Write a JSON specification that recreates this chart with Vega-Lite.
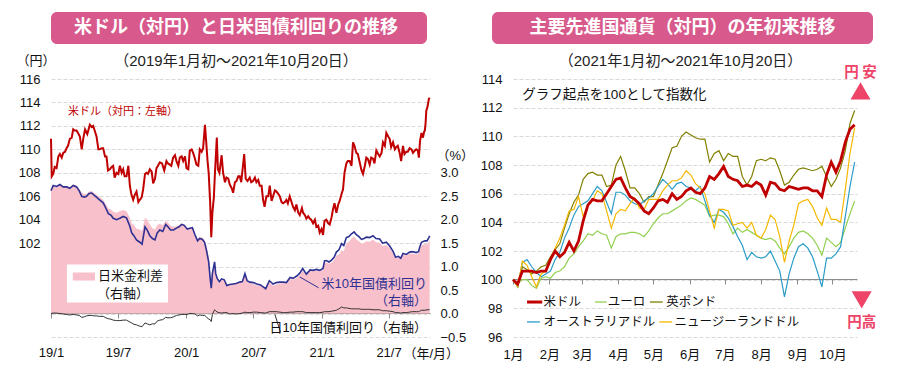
{
"$schema": "https://vega.github.io/schema/vega-lite/v6.json",
"background": "white",
"padding": {"left": 16, "top": 12, "right": 4, "bottom": 4},
"bounds": "flush",
"spacing": 67,
"config": {
  "font": "Liberation Sans, Noto Sans CJK JP",
  "view": {"stroke": null},
  "axis": {"labelFontSize": 13, "labelColor": "#111", "titleColor": "#111", "titleFontWeight": "normal", "titleFontSize": 13, "labelFont": "Liberation Sans, Noto Sans CJK JP", "titleFont": "Liberation Sans, Noto Sans CJK JP"},
  "title": {"font": "Liberation Sans, Noto Sans CJK JP"}
},
"datasets": {
"usd": [
{"d":"2019-01-01","v":110.9},{"d":"2019-01-03","v":107.7},{"d":"2019-01-07","v":107.9},{"d":"2019-01-11","v":108.5},{"d":"2019-01-16","v":108.4},{"d":"2019-01-21","v":109.4},{"d":"2019-01-25","v":109.6},{"d":"2019-01-30","v":109.3},{"d":"2019-02-03","v":109.7},{"d":"2019-02-08","v":109.8},{"d":"2019-02-12","v":110.1},{"d":"2019-02-16","v":110.3},{"d":"2019-02-21","v":110.9},{"d":"2019-02-26","v":111.0},{"d":"2019-03-02","v":111.7},{"d":"2019-03-06","v":111.6},{"d":"2019-03-11","v":111.6},{"d":"2019-03-15","v":111.4},{"d":"2019-03-20","v":111.1},{"d":"2019-03-25","v":110.0},{"d":"2019-03-29","v":110.9},{"d":"2019-04-03","v":111.7},{"d":"2019-04-09","v":111.3},{"d":"2019-04-16","v":112.1},{"d":"2019-04-21","v":111.9},{"d":"2019-04-25","v":112.0},{"d":"2019-04-30","v":111.5},{"d":"2019-05-04","v":111.1},{"d":"2019-05-09","v":110.0},{"d":"2019-05-13","v":110.0},{"d":"2019-05-18","v":110.1},{"d":"2019-05-22","v":110.1},{"d":"2019-05-27","v":109.4},{"d":"2019-05-31","v":109.4},{"d":"2019-06-04","v":108.2},{"d":"2019-06-09","v":108.3},{"d":"2019-06-14","v":108.5},{"d":"2019-06-18","v":108.6},{"d":"2019-06-22","v":107.6},{"d":"2019-06-27","v":108.0},{"d":"2019-07-02","v":107.9},{"d":"2019-07-06","v":108.6},{"d":"2019-07-11","v":108.0},{"d":"2019-07-15","v":108.3},{"d":"2019-07-19","v":107.7},{"d":"2019-07-24","v":107.7},{"d":"2019-07-29","v":108.6},{"d":"2019-08-02","v":106.9},{"d":"2019-08-06","v":106.2},{"d":"2019-08-11","v":105.7},{"d":"2019-08-15","v":106.1},{"d":"2019-08-20","v":106.4},{"d":"2019-08-25","v":105.5},{"d":"2019-08-29","v":105.7},{"d":"2019-09-03","v":105.9},{"d":"2019-09-07","v":106.6},{"d":"2019-09-12","v":107.9},{"d":"2019-09-16","v":108.0},{"d":"2019-09-20","v":107.9},{"d":"2019-09-25","v":108.3},{"d":"2019-09-30","v":108.1},{"d":"2019-10-04","v":107.1},{"d":"2019-10-09","v":107.5},{"d":"2019-10-13","v":108.4},{"d":"2019-10-17","v":108.6},{"d":"2019-10-22","v":108.9},{"d":"2019-10-28","v":108.8},{"d":"2019-11-03","v":108.2},{"d":"2019-11-09","v":109.0},{"d":"2019-11-13","v":108.8},{"d":"2019-11-18","v":108.7},{"d":"2019-11-22","v":108.6},{"d":"2019-11-27","v":109.3},{"d":"2019-12-02","v":109.5},{"d":"2019-12-06","v":109.0},{"d":"2019-12-11","v":108.6},{"d":"2019-12-15","v":109.3},{"d":"2019-12-20","v":109.4},{"d":"2019-12-24","v":109.0},{"d":"2019-12-29","v":109.4},{"d":"2020-01-02","v":108.4},{"d":"2020-01-07","v":108.3},{"d":"2020-01-11","v":109.9},{"d":"2020-01-16","v":110.0},{"d":"2020-01-20","v":109.7},{"d":"2020-01-24","v":109.3},{"d":"2020-01-29","v":108.7},{"d":"2020-02-03","v":108.6},{"d":"2020-02-07","v":110.0},{"d":"2020-02-12","v":109.8},{"d":"2020-02-16","v":110.1},{"d":"2020-02-21","v":112.1},{"d":"2020-02-24","v":110.8},{"d":"2020-02-28","v":109.0},{"d":"2020-03-02","v":108.0},{"d":"2020-03-06","v":105.5},{"d":"2020-03-09","v":102.5},{"d":"2020-03-12","v":104.6},{"d":"2020-03-16","v":105.9},{"d":"2020-03-19","v":108.0},{"d":"2020-03-24","v":111.0},{"d":"2020-03-27","v":108.3},{"d":"2020-03-31","v":108.0},{"d":"2020-04-06","v":109.5},{"d":"2020-04-10","v":108.0},{"d":"2020-04-15","v":107.2},{"d":"2020-04-19","v":107.6},{"d":"2020-04-24","v":107.5},{"d":"2020-04-28","v":107.0},{"d":"2020-05-03","v":106.7},{"d":"2020-05-07","v":106.3},{"d":"2020-05-12","v":107.2},{"d":"2020-05-16","v":107.3},{"d":"2020-05-21","v":107.7},{"d":"2020-05-25","v":107.7},{"d":"2020-05-29","v":107.2},{"d":"2020-06-03","v":108.7},{"d":"2020-06-06","v":109.6},{"d":"2020-06-10","v":107.5},{"d":"2020-06-15","v":107.3},{"d":"2020-06-21","v":107.6},{"d":"2020-06-25","v":107.2},{"d":"2020-06-30","v":107.3},{"d":"2020-07-05","v":107.6},{"d":"2020-07-09","v":107.2},{"d":"2020-07-14","v":107.4},{"d":"2020-07-18","v":106.9},{"d":"2020-07-23","v":106.9},{"d":"2020-07-27","v":105.7},{"d":"2020-07-31","v":105.1},{"d":"2020-08-05","v":106.0},{"d":"2020-08-10","v":106.0},{"d":"2020-08-14","v":106.9},{"d":"2020-08-19","v":105.6},{"d":"2020-08-23","v":106.0},{"d":"2020-08-28","v":106.5},{"d":"2020-09-01","v":106.4},{"d":"2020-09-06","v":106.2},{"d":"2020-09-10","v":106.0},{"d":"2020-09-15","v":105.5},{"d":"2020-09-19","v":105.4},{"d":"2020-09-24","v":105.5},{"d":"2020-09-28","v":105.7},{"d":"2020-10-02","v":105.4},{"d":"2020-10-07","v":106.0},{"d":"2020-10-11","v":105.6},{"d":"2020-10-16","v":105.1},{"d":"2020-10-21","v":104.8},{"d":"2020-10-25","v":105.3},{"d":"2020-10-30","v":104.6},{"d":"2020-11-03","v":104.4},{"d":"2020-11-09","v":105.0},{"d":"2020-11-12","v":104.6},{"d":"2020-11-17","v":104.4},{"d":"2020-11-21","v":104.1},{"d":"2020-11-26","v":104.3},{"d":"2020-11-30","v":104.1},{"d":"2020-12-04","v":104.0},{"d":"2020-12-09","v":103.7},{"d":"2020-12-14","v":104.0},{"d":"2020-12-18","v":103.4},{"d":"2020-12-23","v":103.5},{"d":"2020-12-27","v":102.9},{"d":"2021-01-01","v":103.2},{"d":"2021-01-05","v":102.7},{"d":"2021-01-09","v":103.9},{"d":"2021-01-14","v":104.0},{"d":"2021-01-19","v":103.7},{"d":"2021-01-23","v":103.6},{"d":"2021-01-28","v":104.2},{"d":"2021-02-01","v":104.9},{"d":"2021-02-05","v":105.4},{"d":"2021-02-10","v":104.6},{"d":"2021-02-15","v":105.3},{"d":"2021-02-19","v":105.6},{"d":"2021-02-24","v":106.2},{"d":"2021-02-28","v":106.6},{"d":"2021-03-04","v":108.0},{"d":"2021-03-09","v":108.8},{"d":"2021-03-13","v":109.0},{"d":"2021-03-18","v":109.0},{"d":"2021-03-23","v":108.6},{"d":"2021-03-27","v":110.6},{"d":"2021-03-31","v":110.3},{"d":"2021-04-05","v":109.7},{"d":"2021-04-09","v":109.6},{"d":"2021-04-14","v":108.9},{"d":"2021-04-19","v":108.2},{"d":"2021-04-23","v":107.9},{"d":"2021-04-28","v":108.6},{"d":"2021-05-02","v":109.3},{"d":"2021-05-06","v":109.2},{"d":"2021-05-11","v":108.7},{"d":"2021-05-15","v":109.3},{"d":"2021-05-20","v":109.2},{"d":"2021-05-24","v":108.8},{"d":"2021-05-29","v":109.9},{"d":"2021-06-03","v":109.6},{"d":"2021-06-07","v":109.4},{"d":"2021-06-12","v":109.7},{"d":"2021-06-16","v":110.6},{"d":"2021-06-21","v":110.3},{"d":"2021-06-25","v":111.4},{"d":"2021-06-30","v":111.1},{"d":"2021-07-04","v":110.9},{"d":"2021-07-08","v":110.2},{"d":"2021-07-13","v":110.6},{"d":"2021-07-18","v":110.0},{"d":"2021-07-22","v":110.2},{"d":"2021-07-26","v":110.3},{"d":"2021-07-31","v":109.7},{"d":"2021-08-04","v":109.0},{"d":"2021-08-09","v":110.3},{"d":"2021-08-13","v":109.6},{"d":"2021-08-18","v":109.8},{"d":"2021-08-22","v":109.8},{"d":"2021-08-27","v":110.1},{"d":"2021-09-01","v":110.0},{"d":"2021-09-05","v":109.7},{"d":"2021-09-10","v":109.9},{"d":"2021-09-14","v":110.0},{"d":"2021-09-18","v":109.9},{"d":"2021-09-21","v":109.3},{"d":"2021-09-24","v":110.7},{"d":"2021-09-28","v":111.4},{"d":"2021-10-02","v":111.0},{"d":"2021-10-05","v":111.5},{"d":"2021-10-07","v":111.6},{"d":"2021-10-09","v":112.2},{"d":"2021-10-11","v":113.3},{"d":"2021-10-14","v":113.6},{"d":"2021-10-18","v":114.3},{"d":"2021-10-20","v":114.4}
],
"rates": [
{"d":"2019-01-01","us":2.62,"jp":0.00,"sp":2.62},{"d":"2019-01-07","us":2.73,"jp":0.01,"sp":2.72},{"d":"2019-01-16","us":2.71,"jp":0.01,"sp":2.70},{"d":"2019-01-25","us":2.75,"jp":0.00,"sp":2.75},{"d":"2019-02-03","us":2.70,"jp":-0.01,"sp":2.71},{"d":"2019-02-12","us":2.70,"jp":-0.02,"sp":2.72},{"d":"2019-02-21","us":2.67,"jp":-0.03,"sp":2.70},{"d":"2019-03-02","us":2.73,"jp":-0.02,"sp":2.75},{"d":"2019-03-11","us":2.70,"jp":-0.03,"sp":2.73},{"d":"2019-03-18","us":2.62,"jp":-0.04,"sp":2.66},{"d":"2019-03-25","us":2.50,"jp":-0.08,"sp":2.58},{"d":"2019-04-01","us":2.48,"jp":-0.07,"sp":2.55},{"d":"2019-04-07","us":2.50,"jp":-0.05,"sp":2.55},{"d":"2019-04-14","us":2.56,"jp":-0.04,"sp":2.60},{"d":"2019-04-21","us":2.57,"jp":-0.04,"sp":2.61},{"d":"2019-04-28","us":2.52,"jp":-0.05,"sp":2.57},{"d":"2019-05-04","us":2.48,"jp":-0.05,"sp":2.53},{"d":"2019-05-13","us":2.42,"jp":-0.06,"sp":2.48},{"d":"2019-05-22","us":2.36,"jp":-0.06,"sp":2.42},{"d":"2019-05-29","us":2.25,"jp":-0.09,"sp":2.34},{"d":"2019-06-05","us":2.13,"jp":-0.11,"sp":2.24},{"d":"2019-06-12","us":2.10,"jp":-0.12,"sp":2.22},{"d":"2019-06-18","us":2.03,"jp":-0.14,"sp":2.17},{"d":"2019-06-27","us":2.00,"jp":-0.15,"sp":2.15},{"d":"2019-07-06","us":2.03,"jp":-0.15,"sp":2.18},{"d":"2019-07-15","us":2.07,"jp":-0.14,"sp":2.21},{"d":"2019-07-24","us":2.04,"jp":-0.14,"sp":2.18},{"d":"2019-08-02","us":1.86,"jp":-0.18,"sp":2.04},{"d":"2019-08-07","us":1.72,"jp":-0.20,"sp":1.92},{"d":"2019-08-13","us":1.66,"jp":-0.23,"sp":1.89},{"d":"2019-08-20","us":1.57,"jp":-0.24,"sp":1.81},{"d":"2019-08-29","us":1.52,"jp":-0.27,"sp":1.79},{"d":"2019-09-04","us":1.48,"jp":-0.28,"sp":1.76},{"d":"2019-09-12","us":1.85,"jp":-0.20,"sp":2.05},{"d":"2019-09-18","us":1.78,"jp":-0.22,"sp":2.00},{"d":"2019-09-25","us":1.66,"jp":-0.24,"sp":1.90},{"d":"2019-10-02","us":1.60,"jp":-0.22,"sp":1.82},{"d":"2019-10-09","us":1.57,"jp":-0.22,"sp":1.79},{"d":"2019-10-15","us":1.72,"jp":-0.16,"sp":1.88},{"d":"2019-10-22","us":1.78,"jp":-0.14,"sp":1.92},{"d":"2019-10-30","us":1.75,"jp":-0.13,"sp":1.88},{"d":"2019-11-07","us":1.90,"jp":-0.08,"sp":1.98},{"d":"2019-11-13","us":1.85,"jp":-0.09,"sp":1.94},{"d":"2019-11-20","us":1.78,"jp":-0.09,"sp":1.87},{"d":"2019-11-28","us":1.78,"jp":-0.07,"sp":1.85},{"d":"2019-12-06","us":1.82,"jp":-0.04,"sp":1.86},{"d":"2019-12-13","us":1.85,"jp":-0.03,"sp":1.88},{"d":"2019-12-20","us":1.90,"jp":-0.02,"sp":1.92},{"d":"2019-12-27","us":1.88,"jp":-0.02,"sp":1.90},{"d":"2020-01-04","us":1.80,"jp":-0.02,"sp":1.82},{"d":"2020-01-11","us":1.82,"jp":0.00,"sp":1.82},{"d":"2020-01-18","us":1.83,"jp":0.00,"sp":1.83},{"d":"2020-01-25","us":1.68,"jp":-0.01,"sp":1.69},{"d":"2020-02-01","us":1.55,"jp":-0.05,"sp":1.60},{"d":"2020-02-07","us":1.60,"jp":-0.03,"sp":1.63},{"d":"2020-02-14","us":1.58,"jp":-0.04,"sp":1.62},{"d":"2020-02-20","us":1.52,"jp":-0.04,"sp":1.56},{"d":"2020-02-25","us":1.35,"jp":-0.07,"sp":1.42},{"d":"2020-03-02","us":1.10,"jp":-0.12,"sp":1.22},{"d":"2020-03-06","us":0.75,"jp":-0.13,"sp":0.88},{"d":"2020-03-09","us":0.54,"jp":-0.17,"sp":0.71},{"d":"2020-03-12","us":0.85,"jp":-0.02,"sp":0.87},{"d":"2020-03-18","us":1.10,"jp":0.08,"sp":1.02},{"d":"2020-03-21","us":0.85,"jp":0.06,"sp":0.79},{"d":"2020-03-25","us":0.75,"jp":0.03,"sp":0.72},{"d":"2020-03-31","us":0.68,"jp":0.02,"sp":0.66},{"d":"2020-04-06","us":0.74,"jp":0.01,"sp":0.73},{"d":"2020-04-13","us":0.72,"jp":0.02,"sp":0.70},{"d":"2020-04-20","us":0.60,"jp":0.02,"sp":0.58},{"d":"2020-04-28","us":0.62,"jp":-0.01,"sp":0.63},{"d":"2020-05-07","us":0.63,"jp":0.00,"sp":0.63},{"d":"2020-05-15","us":0.64,"jp":-0.01,"sp":0.65},{"d":"2020-05-25","us":0.67,"jp":0.00,"sp":0.67},{"d":"2020-06-01","us":0.68,"jp":0.01,"sp":0.67},{"d":"2020-06-08","us":0.85,"jp":0.03,"sp":0.82},{"d":"2020-06-14","us":0.70,"jp":0.02,"sp":0.68},{"d":"2020-06-21","us":0.67,"jp":0.02,"sp":0.65},{"d":"2020-07-01","us":0.66,"jp":0.03,"sp":0.63},{"d":"2020-07-10","us":0.63,"jp":0.03,"sp":0.60},{"d":"2020-07-20","us":0.61,"jp":0.02,"sp":0.59},{"d":"2020-08-03","us":0.53,"jp":0.01,"sp":0.52},{"d":"2020-08-13","us":0.70,"jp":0.04,"sp":0.66},{"d":"2020-08-23","us":0.63,"jp":0.04,"sp":0.59},{"d":"2020-09-01","us":0.66,"jp":0.04,"sp":0.62},{"d":"2020-09-10","us":0.67,"jp":0.03,"sp":0.64},{"d":"2020-09-20","us":0.67,"jp":0.02,"sp":0.65},{"d":"2020-09-28","us":0.66,"jp":0.02,"sp":0.64},{"d":"2020-10-08","us":0.77,"jp":0.03,"sp":0.74},{"d":"2020-10-16","us":0.75,"jp":0.03,"sp":0.72},{"d":"2020-10-26","us":0.80,"jp":0.04,"sp":0.76},{"d":"2020-11-03","us":0.86,"jp":0.04,"sp":0.82},{"d":"2020-11-11","us":0.96,"jp":0.04,"sp":0.92},{"d":"2020-11-21","us":0.84,"jp":0.02,"sp":0.82},{"d":"2020-12-01","us":0.93,"jp":0.02,"sp":0.91},{"d":"2020-12-09","us":0.92,"jp":0.02,"sp":0.90},{"d":"2020-12-18","us":0.94,"jp":0.02,"sp":0.92},{"d":"2020-12-27","us":0.92,"jp":0.02,"sp":0.90},{"d":"2021-01-05","us":0.96,"jp":0.03,"sp":0.93},{"d":"2021-01-09","us":1.12,"jp":0.04,"sp":1.08},{"d":"2021-01-14","us":1.13,"jp":0.04,"sp":1.09},{"d":"2021-01-21","us":1.10,"jp":0.04,"sp":1.06},{"d":"2021-01-28","us":1.14,"jp":0.05,"sp":1.09},{"d":"2021-02-04","us":1.20,"jp":0.06,"sp":1.14},{"d":"2021-02-10","us":1.31,"jp":0.07,"sp":1.24},{"d":"2021-02-17","us":1.36,"jp":0.10,"sp":1.26},{"d":"2021-02-24","us":1.49,"jp":0.14,"sp":1.35},{"d":"2021-03-02","us":1.45,"jp":0.12,"sp":1.33},{"d":"2021-03-09","us":1.62,"jp":0.12,"sp":1.50},{"d":"2021-03-16","us":1.64,"jp":0.11,"sp":1.53},{"d":"2021-03-23","us":1.70,"jp":0.10,"sp":1.60},{"d":"2021-03-30","us":1.74,"jp":0.10,"sp":1.64},{"d":"2021-04-05","us":1.68,"jp":0.10,"sp":1.58},{"d":"2021-04-12","us":1.64,"jp":0.10,"sp":1.54},{"d":"2021-04-19","us":1.58,"jp":0.09,"sp":1.49},{"d":"2021-04-26","us":1.60,"jp":0.09,"sp":1.51},{"d":"2021-05-02","us":1.63,"jp":0.09,"sp":1.54},{"d":"2021-05-11","us":1.62,"jp":0.09,"sp":1.53},{"d":"2021-05-20","us":1.66,"jp":0.08,"sp":1.58},{"d":"2021-05-28","us":1.60,"jp":0.08,"sp":1.52},{"d":"2021-06-07","us":1.59,"jp":0.08,"sp":1.51},{"d":"2021-06-15","us":1.50,"jp":0.06,"sp":1.44},{"d":"2021-06-25","us":1.52,"jp":0.06,"sp":1.46},{"d":"2021-07-04","us":1.44,"jp":0.05,"sp":1.39},{"d":"2021-07-13","us":1.33,"jp":0.04,"sp":1.29},{"d":"2021-07-20","us":1.20,"jp":0.02,"sp":1.18},{"d":"2021-07-27","us":1.22,"jp":0.02,"sp":1.20},{"d":"2021-08-03","us":1.18,"jp":0.01,"sp":1.17},{"d":"2021-08-09","us":1.28,"jp":0.02,"sp":1.26},{"d":"2021-08-18","us":1.26,"jp":0.02,"sp":1.24},{"d":"2021-08-27","us":1.31,"jp":0.03,"sp":1.28},{"d":"2021-09-03","us":1.32,"jp":0.04,"sp":1.28},{"d":"2021-09-14","us":1.30,"jp":0.04,"sp":1.26},{"d":"2021-09-20","us":1.32,"jp":0.04,"sp":1.28},{"d":"2021-09-23","us":1.41,"jp":0.05,"sp":1.36},{"d":"2021-09-28","us":1.52,"jp":0.07,"sp":1.45},{"d":"2021-10-07","us":1.55,"jp":0.07,"sp":1.48},{"d":"2021-10-13","us":1.55,"jp":0.08,"sp":1.47},{"d":"2021-10-18","us":1.62,"jp":0.08,"sp":1.54},{"d":"2021-10-20","us":1.66,"jp":0.09,"sp":1.57}
],
"curr": [
{"d":"2021-01-01","usd":100.0,"eur":100.0,"gbp":100.0,"aud":100.0,"nzd":100.0},
{"d":"2021-01-05","usd":99.7,"eur":99.7,"gbp":99.5,"aud":99.5,"nzd":99.5},
{"d":"2021-01-09","usd":100.6,"eur":100.0,"gbp":100.9,"aud":101.2,"nzd":101.3},
{"d":"2021-01-13","usd":100.6,"eur":100.0,"gbp":100.7,"aud":101.4,"nzd":101.0},
{"d":"2021-01-17","usd":100.6,"eur":99.6,"gbp":100.4,"aud":100.9,"nzd":100.2},
{"d":"2021-01-21","usd":100.5,"eur":99.4,"gbp":100.6,"aud":100.5,"nzd":99.5},
{"d":"2021-01-25","usd":100.6,"eur":100.1,"gbp":100.9,"aud":100.2,"nzd":100.4},
{"d":"2021-01-29","usd":100.6,"eur":100.2,"gbp":101.0,"aud":100.4,"nzd":100.6},
{"d":"2021-02-02","usd":101.4,"eur":100.1,"gbp":101.6,"aud":100.6,"nzd":101.3},
{"d":"2021-02-06","usd":102.0,"eur":100.5,"gbp":102.1,"aud":101.4,"nzd":102.2},
{"d":"2021-02-10","usd":101.6,"eur":100.6,"gbp":102.5,"aud":101.9,"nzd":102.9},
{"d":"2021-02-14","usd":101.9,"eur":100.9,"gbp":103.6,"aud":102.9,"nzd":103.8},
{"d":"2021-02-18","usd":102.6,"eur":101.5,"gbp":104.6,"aud":103.6,"nzd":104.8},
{"d":"2021-02-22","usd":102.0,"eur":101.8,"gbp":105.4,"aud":104.5,"nzd":104.9},
{"d":"2021-02-26","usd":102.7,"eur":102.3,"gbp":105.9,"aud":105.1,"nzd":105.8},
{"d":"2021-03-02","usd":104.1,"eur":102.7,"gbp":107.0,"aud":105.3,"nzd":104.4},
{"d":"2021-03-06","usd":105.2,"eur":103.2,"gbp":107.4,"aud":105.5,"nzd":105.2},
{"d":"2021-03-10","usd":105.6,"eur":103.1,"gbp":107.5,"aud":106.0,"nzd":105.5},
{"d":"2021-03-14","usd":105.5,"eur":103.4,"gbp":107.3,"aud":106.5,"nzd":106.2},
{"d":"2021-03-18","usd":105.5,"eur":103.2,"gbp":107.3,"aud":106.2,"nzd":106.0},
{"d":"2021-03-22","usd":106.0,"eur":103.1,"gbp":106.5,"aud":105.4,"nzd":104.8},
{"d":"2021-03-26","usd":106.5,"eur":102.2,"gbp":106.6,"aud":104.6,"nzd":103.6},
{"d":"2021-03-30","usd":107.0,"eur":103.0,"gbp":108.0,"aud":106.1,"nzd":104.6},
{"d":"2021-04-03","usd":107.1,"eur":103.2,"gbp":108.6,"aud":106.1,"nzd":104.9},
{"d":"2021-04-07","usd":106.4,"eur":103.2,"gbp":107.6,"aud":105.9,"nzd":104.8},
{"d":"2021-04-11","usd":105.8,"eur":103.3,"gbp":106.4,"aud":105.5,"nzd":105.3},
{"d":"2021-04-15","usd":105.6,"eur":103.3,"gbp":106.4,"aud":105.3,"nzd":105.7},
{"d":"2021-04-19","usd":105.3,"eur":103.2,"gbp":106.0,"aud":105.2,"nzd":105.0},
{"d":"2021-04-23","usd":104.8,"eur":103.0,"gbp":105.4,"aud":105.5,"nzd":104.9},
{"d":"2021-04-27","usd":104.6,"eur":103.4,"gbp":105.8,"aud":105.7,"nzd":105.6},
{"d":"2021-05-01","usd":105.0,"eur":103.9,"gbp":105.8,"aud":106.0,"nzd":105.6},
{"d":"2021-05-05","usd":105.5,"eur":104.3,"gbp":106.6,"aud":106.5,"nzd":105.6},
{"d":"2021-05-09","usd":105.6,"eur":104.6,"gbp":107.4,"aud":107.0,"nzd":106.2},
{"d":"2021-05-13","usd":105.4,"eur":104.6,"gbp":108.3,"aud":106.7,"nzd":106.6},
{"d":"2021-05-17","usd":106.0,"eur":104.8,"gbp":109.2,"aud":106.3,"nzd":106.9},
{"d":"2021-05-21","usd":105.6,"eur":105.0,"gbp":109.3,"aud":106.7,"nzd":106.9},
{"d":"2021-05-25","usd":105.8,"eur":105.2,"gbp":110.0,"aud":106.8,"nzd":107.1},
{"d":"2021-05-29","usd":106.2,"eur":105.5,"gbp":110.3,"aud":106.5,"nzd":107.6},
{"d":"2021-06-02","usd":106.4,"eur":105.7,"gbp":110.1,"aud":106.4,"nzd":107.3},
{"d":"2021-06-06","usd":106.1,"eur":105.6,"gbp":109.9,"aud":106.2,"nzd":106.7},
{"d":"2021-06-10","usd":106.0,"eur":105.4,"gbp":109.8,"aud":106.5,"nzd":106.4},
{"d":"2021-06-14","usd":106.4,"eur":105.2,"gbp":109.8,"aud":105.5,"nzd":106.0},
{"d":"2021-06-18","usd":107.2,"eur":104.4,"gbp":108.2,"aud":104.5,"nzd":104.8},
{"d":"2021-06-22","usd":107.0,"eur":104.5,"gbp":108.8,"aud":104.0,"nzd":103.6},
{"d":"2021-06-26","usd":107.4,"eur":104.5,"gbp":109.0,"aud":104.9,"nzd":104.9},
{"d":"2021-06-30","usd":107.9,"eur":104.4,"gbp":108.3,"aud":104.7,"nzd":104.9},
{"d":"2021-07-04","usd":107.2,"eur":103.9,"gbp":108.8,"aud":104.3,"nzd":104.8},
{"d":"2021-07-08","usd":107.0,"eur":103.2,"gbp":108.6,"aud":103.7,"nzd":103.8},
{"d":"2021-07-12","usd":106.9,"eur":103.6,"gbp":108.6,"aud":103.0,"nzd":103.9},
{"d":"2021-07-16","usd":106.5,"eur":103.3,"gbp":107.2,"aud":102.4,"nzd":104.0},
{"d":"2021-07-20","usd":106.6,"eur":103.5,"gbp":106.6,"aud":101.4,"nzd":103.6},
{"d":"2021-07-24","usd":106.5,"eur":103.3,"gbp":107.2,"aud":101.9,"nzd":104.0},
{"d":"2021-07-28","usd":106.8,"eur":103.1,"gbp":108.3,"aud":101.6,"nzd":103.1},
{"d":"2021-08-01","usd":106.6,"eur":102.9,"gbp":108.4,"aud":101.5,"nzd":102.9},
{"d":"2021-08-05","usd":105.9,"eur":102.8,"gbp":108.3,"aud":101.6,"nzd":103.5},
{"d":"2021-08-09","usd":106.8,"eur":102.9,"gbp":108.5,"aud":102.0,"nzd":104.5},
{"d":"2021-08-13","usd":106.7,"eur":102.7,"gbp":108.4,"aud":101.3,"nzd":104.2},
{"d":"2021-08-17","usd":106.3,"eur":102.2,"gbp":107.6,"aud":100.6,"nzd":103.0},
{"d":"2021-08-21","usd":106.2,"eur":101.8,"gbp":106.6,"aud":98.8,"nzd":101.2},
{"d":"2021-08-25","usd":106.5,"eur":102.3,"gbp":106.8,"aud":100.4,"nzd":102.7},
{"d":"2021-08-29","usd":106.4,"eur":102.9,"gbp":107.3,"aud":101.5,"nzd":103.8},
{"d":"2021-09-02","usd":106.3,"eur":103.3,"gbp":107.7,"aud":102.3,"nzd":105.3},
{"d":"2021-09-06","usd":106.4,"eur":103.4,"gbp":107.8,"aud":102.5,"nzd":105.5},
{"d":"2021-09-10","usd":106.4,"eur":103.2,"gbp":107.7,"aud":102.2,"nzd":105.6},
{"d":"2021-09-14","usd":106.2,"eur":102.9,"gbp":107.6,"aud":101.6,"nzd":105.1},
{"d":"2021-09-18","usd":106.2,"eur":102.4,"gbp":107.7,"aud":100.6,"nzd":104.3},
{"d":"2021-09-22","usd":105.8,"eur":101.7,"gbp":107.9,"aud":99.5,"nzd":103.8},
{"d":"2021-09-26","usd":107.3,"eur":102.9,"gbp":107.2,"aud":101.5,"nzd":105.0},
{"d":"2021-09-30","usd":108.2,"eur":102.6,"gbp":106.5,"aud":101.5,"nzd":104.2},
{"d":"2021-10-04","usd":107.5,"eur":102.3,"gbp":107.0,"aud":101.8,"nzd":104.2},
{"d":"2021-10-08","usd":108.3,"eur":102.6,"gbp":107.8,"aud":102.3,"nzd":104.0},
{"d":"2021-10-12","usd":109.6,"eur":103.6,"gbp":109.0,"aud":104.4,"nzd":106.3},
{"d":"2021-10-16","usd":110.5,"eur":104.6,"gbp":110.9,"aud":106.5,"nzd":108.8},
{"d":"2021-10-20","usd":110.8,"eur":105.5,"gbp":111.8,"aud":108.2,"nzd":110.6}
]
},
"vconcat": [
{
  "hconcat": [
    {
      "width": 376, "height": 32,
      "view": {"fill": "#D85A8C", "stroke": null, "cornerRadius": 6},
      "data": {"values": [{"t": "米ドル（対円）と日米国債利回りの推移"}]},
      "mark": {"type": "text", "color": "white", "fontSize": 18, "fontWeight": "bold", "font": "Noto Sans CJK JP", "dx": -3},
      "encoding": {"text": {"field": "t"}},
      "title": {"text": "（2019年1月初～2021年10月20日）", "orient": "bottom", "anchor": "middle", "offset": 10, "fontSize": 15, "fontWeight": "normal", "color": "#222", "dx": -3}
    },
    {
      "width": 381, "height": 32,
      "view": {"fill": "#D85A8C", "stroke": null, "cornerRadius": 6},
      "data": {"values": [{"t": "主要先進国通貨（対円）の年初来推移"}]},
      "mark": {"type": "text", "color": "white", "fontSize": 18, "fontWeight": "bold", "font": "Noto Sans CJK JP"},
      "encoding": {"text": {"field": "t"}},
      "title": {"text": "（2021年1月初～2021年10月20日）", "orient": "bottom", "anchor": "middle", "offset": 10, "fontSize": 15, "fontWeight": "normal", "color": "#222", "dx": -2}
    }
  ],
  "spacing": 65,
  "bounds": "flush"
},
{
  "hconcat": [
    {
      "width": 379, "height": 258,
      "layer": [
        {
          "data": {"name": "rates"},
          "encoding": {
            "x": {"field": "d", "type": "temporal", "scale": {"type": "utc", "domain": [{"year": 2019, "month": 1, "date": 1, "utc": true}, {"year": 2021, "month": 10, "date": 21, "utc": true}]},
                  "axis": {"orient": "bottom", "offset": -24, "values": [{"year": 2019, "month": 1, "date": 1, "utc": true}, {"year": 2019, "month": 7, "date": 1, "utc": true}, {"year": 2020, "month": 1, "date": 1, "utc": true}, {"year": 2020, "month": 7, "date": 1, "utc": true}, {"year": 2021, "month": 1, "date": 1, "utc": true}, {"year": 2021, "month": 7, "date": 1, "utc": true}], "labels": false, "ticks": true, "tickSize": 5, "tickColor": "#8C8C8C", "domain": true, "domainColor": "#8C8C8C", "grid": false, "title": null}},
            "y": {"field": "v", "type": "quantitative", "scale": {"domain": [-0.5, 5], "nice": false, "zero": false},
                  "axis": {"orient": "right", "values": [-0.5, 0, 0.5, 1, 1.5, 2, 2.5, 3], "format": ".1f", "grid": false, "ticks": false, "domain": false, "labelPadding": 10, "title": "（%）", "titleAngle": 0, "titleAlign": "left", "titleBaseline": "middle", "titleX": 6, "titleY": 76}}
          },
          "layer": [
            {
              "transform": [{"fold": ["sp"], "as": ["k", "v"]}],
              "mark": {"type": "area", "color": "#F8C0CB", "opacity": 1},
              "encoding": {"y2": {"datum": 0}}
            },
            {
              "data": {"values": [{"d": "2019-02-13", "d2": "2019-11-13", "v": 0.235, "v2": 1.046}]},
              "mark": {"type": "rect", "color": "white"},
              "encoding": {"x2": {"field": "d2"}, "y2": {"field": "v2"}}
            },
            {
              "data": {"values": [{"d": "2019-03-01", "d2": "2019-04-30", "v": 0.704, "v2": 0.875}]},
              "mark": {"type": "rect", "color": "#F8C0CB"},
              "encoding": {"x2": {"field": "d2"}, "y2": {"field": "v2"}}
            },
            {
              "data": {"values": [{"d": "2019-05-08", "v": 0.79, "t": "日米金利差"}, {"d": "2019-05-05", "v": 0.427, "t": "（右軸）"}]},
              "mark": {"type": "text", "align": "left", "baseline": "middle", "fontSize": 13, "color": "#111"},
              "encoding": {"text": {"field": "t"}}
            },
            {
              "transform": [{"fold": ["us"], "as": ["k", "v"]}],
              "mark": {"type": "line", "color": "#2E3192", "strokeWidth": 1.6}
            },
            {
              "transform": [{"fold": ["jp"], "as": ["k", "v"]}],
              "mark": {"type": "line", "color": "#333333", "strokeWidth": 1}
            },
            {
              "data": {"values": [{"d": "2020-11-03", "d2": "2020-12-24", "v": 0.78, "v2": 0.55}]},
              "mark": {"type": "rule", "color": "#2E3192", "strokeWidth": 1},
              "encoding": {"x2": {"field": "d2"}, "y2": {"field": "v2"}}
            },
            {
              "data": {"values": [{"d": "2020-08-28", "d2": "2020-09-12", "v": -0.02, "v2": -0.40}]},
              "mark": {"type": "rule", "color": "#333333", "strokeWidth": 1},
              "encoding": {"x2": {"field": "d2"}, "y2": {"field": "v2"}}
            },
            {
              "data": {"values": [{"d": "2021-10-13", "v": 0.64, "t": "米10年国債利回り"}, {"d": "2021-10-13", "v": 0.277, "t": "（右軸）"}]},
              "mark": {"type": "text", "align": "right", "baseline": "middle", "fontSize": 13, "color": "#2E3192"},
              "encoding": {"text": {"field": "t"}}
            },
            {
              "data": {"values": [{"d": "2021-10-13", "v": -0.30, "t": "日10年国債利回り（右軸）"}]},
              "mark": {"type": "text", "align": "right", "baseline": "middle", "fontSize": 13, "color": "#111"},
              "encoding": {"text": {"field": "t"}}
            }
          ]
        },
        {
          "data": {"name": "usd"},
          "encoding": {
            "x": {"field": "d", "type": "temporal", "scale": {"type": "utc", "domain": [{"year": 2019, "month": 1, "date": 1, "utc": true}, {"year": 2021, "month": 10, "date": 21, "utc": true}]},
                  "axis": {"orient": "bottom", "values": [{"year": 2019, "month": 1, "date": 1, "utc": true}, {"year": 2019, "month": 7, "date": 1, "utc": true}, {"year": 2020, "month": 1, "date": 1, "utc": true}, {"year": 2020, "month": 7, "date": 1, "utc": true}, {"year": 2021, "month": 1, "date": 1, "utc": true}, {"year": 2021, "month": 7, "date": 1, "utc": true}], "format": "%y/%-m", "labelFlush": false, "labelOverlap": false, "labelPadding": 9, "ticks": false, "domain": false, "grid": false, "title": "（年/月）", "titleAlign": "left", "titleBaseline": "middle", "titleX": 352, "titleY": 16}},
            "y": {"field": "v", "type": "quantitative", "scale": {"domain": [94, 116], "nice": false, "zero": false},
                  "axis": {"orient": "left", "values": [94, 96, 98, 100, 102, 104, 106, 108, 110, 112, 114, 116], "labelExpr": "datum.value >= 102 ? datum.label : ''", "grid": true, "gridColor": "#D9D9D9", "gridDash": [4, 2], "ticks": false, "domain": false, "labelPadding": 11, "title": "（円）", "titleAngle": 0, "titleAlign": "left", "titleBaseline": "middle", "titleX": -35, "titleY": -19}}
          },
          "layer": [
            {"mark": {"type": "line", "color": "#C00000", "strokeWidth": 2}},
            {
              "data": {"values": [{"d": "2019-02-16", "v": 113.2, "t": "米ドル（対円：左軸）"}]},
              "mark": {"type": "text", "align": "left", "baseline": "middle", "fontSize": 11, "color": "#C00000"},
              "encoding": {"text": {"field": "t"}}
            }
          ]
        }
      ],
      "resolve": {"scale": {"y": "independent"}, "axis": {"x": "independent"}}
    },
    {
      "width": 344, "height": 258,
      "layer": [
        {
          "encoding": {
            "x": {"field": "d", "type": "temporal", "scale": {"type": "utc", "domain": [{"year": 2021, "month": 1, "date": 1, "utc": true}, {"year": 2021, "month": 10, "date": 22, "utc": true}]},
                  "axis": {"orient": "bottom", "values": [{"year": 2021, "month": 1, "date": 1, "utc": true}, {"year": 2021, "month": 2, "date": 1, "utc": true}, {"year": 2021, "month": 3, "date": 1, "utc": true}, {"year": 2021, "month": 4, "date": 1, "utc": true}, {"year": 2021, "month": 5, "date": 1, "utc": true}, {"year": 2021, "month": 6, "date": 1, "utc": true}, {"year": 2021, "month": 7, "date": 1, "utc": true}, {"year": 2021, "month": 8, "date": 1, "utc": true}, {"year": 2021, "month": 9, "date": 1, "utc": true}, {"year": 2021, "month": 10, "date": 1, "utc": true}], "format": "%-m月", "labelFlush": false, "labelOverlap": false, "labelPadding": 11, "ticks": false, "domain": false, "grid": false, "title": null}},
            "y": {"field": "v", "type": "quantitative", "scale": {"domain": [96, 114], "nice": false, "zero": false},
                  "axis": {"values": [96, 98, 100, 102, 104, 106, 108, 110, 112, 114], "grid": true, "gridColor": "#D9D9D9", "gridDash": [4, 2], "ticks": false, "domain": false, "labelPadding": 11, "title": null}}
          },
          "layer": [
            {
              "data": {"name": "curr"},
              "transform": [{"fold": ["eur", "gbp", "aud", "nzd"], "as": ["c", "v"]}],
              "mark": {"type": "line", "strokeWidth": 1.2},
              "encoding": {"color": {"field": "c", "type": "nominal", "scale": {"domain": ["usd", "eur", "gbp", "aud", "nzd"], "range": ["#C00000", "#92D050", "#808000", "#2A9CC8", "#F5B800"]}, "legend": null}}
            },
            {
              "data": {"values": [
                {"d": "2021-01-13", "d2": "2021-01-26", "v": 98.44, "c": "usd"},
                {"d": "2021-03-12", "d2": "2021-03-22", "v": 98.44, "c": "eur"},
                {"d": "2021-04-28", "d2": "2021-05-09", "v": 98.44, "c": "gbp"},
                {"d": "2021-01-13", "d2": "2021-01-24", "v": 97.05, "c": "aud"},
                {"d": "2021-05-06", "d2": "2021-05-17", "v": 97.05, "c": "nzd"}
              ]},
              "mark": {"type": "rule"},
              "encoding": {
                "x2": {"field": "d2"},
                "color": {"field": "c", "type": "nominal", "scale": {"domain": ["usd", "eur", "gbp", "aud", "nzd"], "range": ["#C00000", "#92D050", "#808000", "#2A9CC8", "#F5B800"]}, "legend": null},
                "strokeWidth": {"condition": {"test": "datum.c === 'usd'", "value": 3}, "value": 1.3}
              }
            },
            {
              "data": {"values": [
                {"d": "2021-01-27", "v": 98.44, "t": "米ドル"},
                {"d": "2021-03-23", "v": 98.44, "t": "ユーロ"},
                {"d": "2021-05-12", "v": 98.44, "t": "英ポンド"},
                {"d": "2021-01-27", "v": 97.05, "t": "オーストラリアドル"},
                {"d": "2021-05-19", "v": 97.05, "t": "ニュージーランドドル"}
              ]},
              "mark": {"type": "text", "align": "left", "baseline": "middle", "fontSize": 12.5, "color": "#111"},
              "encoding": {"text": {"field": "t"}}
            },
            {
              "data": {"values": [{"d": "2021-01-09", "v": 112.86, "t": "グラフ起点を100として指数化"}]},
              "mark": {"type": "text", "align": "left", "baseline": "middle", "fontSize": 13.5, "color": "#111"},
              "encoding": {"text": {"field": "t"}}
            },
            {
              "data": {"values": [{"d": "2021-10-25", "v": 114.4, "t": "円 安"}, {"d": "2021-10-26", "v": 96.96, "t": "円高"}]},
              "mark": {"type": "text", "align": "center", "baseline": "middle", "fontSize": 14.5, "fontWeight": "bold", "color": "#EE4468", "font": "Noto Sans CJK JP"},
              "encoding": {"text": {"field": "t"}}
            },
            {
              "data": {"values": [{"d": "2021-10-25", "v": 113.17}]},
              "mark": {"type": "point", "shape": "triangle-up", "filled": true, "size": 400, "color": "#EE4468", "opacity": 1}
            },
            {
              "data": {"values": [{"d": "2021-10-26", "v": 98.59}]},
              "mark": {"type": "point", "shape": "triangle-down", "filled": true, "size": 400, "color": "#EE4468", "opacity": 1}
            }
          ]
        },
        {
          "data": {"name": "curr"},
          "transform": [{"fold": ["usd"], "as": ["c", "v"]}],
          "mark": {"type": "line", "strokeWidth": 2.8},
          "encoding": {
            "x": {"field": "d", "type": "temporal", "scale": {"type": "utc", "domain": [{"year": 2021, "month": 1, "date": 1, "utc": true}, {"year": 2021, "month": 10, "date": 22, "utc": true}]},
                  "axis": {"orient": "bottom", "offset": -58, "values": [{"year": 2021, "month": 1, "date": 1, "utc": true}, {"year": 2021, "month": 2, "date": 1, "utc": true}, {"year": 2021, "month": 3, "date": 1, "utc": true}, {"year": 2021, "month": 4, "date": 1, "utc": true}, {"year": 2021, "month": 5, "date": 1, "utc": true}, {"year": 2021, "month": 6, "date": 1, "utc": true}, {"year": 2021, "month": 7, "date": 1, "utc": true}, {"year": 2021, "month": 8, "date": 1, "utc": true}, {"year": 2021, "month": 9, "date": 1, "utc": true}, {"year": 2021, "month": 10, "date": 1, "utc": true}], "labels": false, "ticks": true, "tickSize": 5, "tickColor": "#8C8C8C", "domain": true, "domainColor": "#8C8C8C", "grid": false, "title": null}},
            "y": {"field": "v", "type": "quantitative", "scale": {"domain": [96, 114], "nice": false, "zero": false},
                  "axis": {"values": [96, 98, 100, 102, 104, 106, 108, 110, 112, 114], "grid": true, "gridColor": "#D9D9D9", "gridDash": [4, 2], "ticks": false, "domain": false, "labelPadding": 11, "title": null}},
            "color": {"field": "c", "type": "nominal", "scale": {"domain": ["usd", "eur", "gbp", "aud", "nzd"], "range": ["#C00000", "#92D050", "#808000", "#2A9CC8", "#F5B800"]}, "legend": null}
          }
        }
      ],
      "resolve": {"axis": {"x": "independent"}}
    }
  ],
  "spacing": 83,
  "bounds": "flush"
}
]
}
